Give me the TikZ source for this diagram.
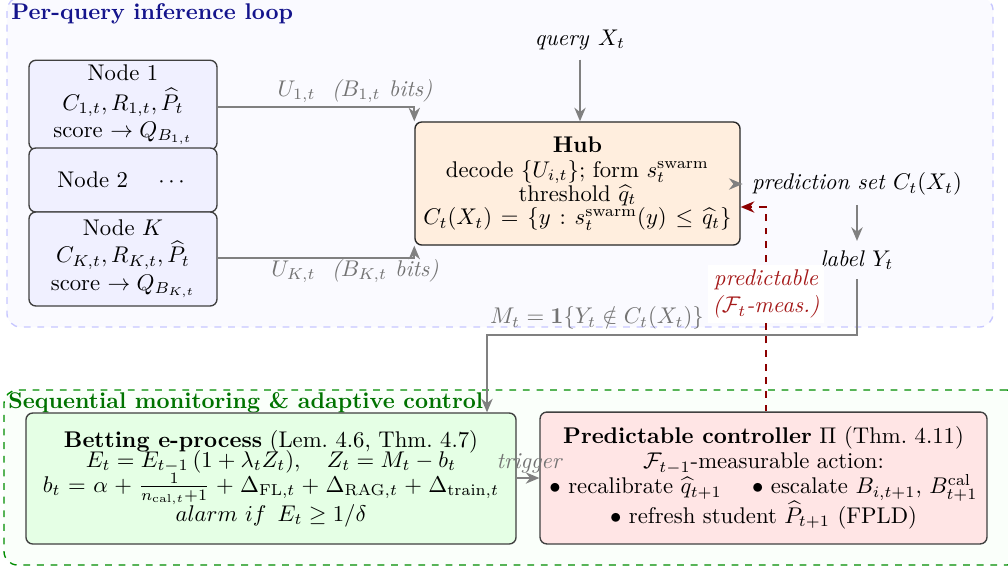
\documentclass[tikz,border=0pt]{standalone}
\usepackage{amsmath,amssymb}
\usetikzlibrary{arrows.meta}
\definecolor{navyT}{RGB}{20,20,140}
\definecolor{greenT}{RGB}{0,115,0}
\definecolor{redD}{RGB}{140,0,0}
\definecolor{redL}{RGB}{165,25,25}
\begin{document}
\begin{tikzpicture}[x=0.44053pt,y=-0.44053pt,
  box/.style={draw=black!75, rounded corners=3pt, line width=0.6pt, align=center, inner sep=2pt},
  nodebox/.style={box, fill=blue!6, minimum width=82.8pt},
  arr/.style={draw=black!50, line width=0.75pt, -{Stealth[length=6pt,width=5pt]}},
  redarr/.style={draw=redD, line width=0.75pt, dashed, -{Stealth[length=6pt,width=5pt]}},
  plain/.style={inner sep=4pt},
  graylab/.style={inner sep=1pt, text=black!55}]
\useasboundingbox (0,0) rectangle (1008,570);
% containers
\node[draw=blue!22, dashed, line width=0.6pt, fill=blue!2, rounded corners=6pt,
      minimum width=434.4pt, minimum height=145.4pt, inner sep=0pt] (loop) at (500,162) {};
\node[draw=green!55!black, dashed, line width=0.6pt, fill=green!2, rounded corners=6pt,
      minimum width=447.6pt, minimum height=77.1pt, inner sep=0pt] (mon) at (512,477.5) {};
\node[anchor=west, font=\bfseries, text=navyT, inner sep=0pt] (t1) at (11,14) {Per-query inference loop};
\node[anchor=west, font=\bfseries, text=greenT, inner sep=0pt] (t2) at (8,403) {Sequential monitoring \& adaptive control};
% edge nodes
\node[nodebox, minimum height=37.9pt] (n1) at (123,105)
  {Node 1\\[1pt] $C_{1,t}, R_{1,t}, \widehat{P}_t$\\ score $\to Q_{B_{1,t}}$};
\node[nodebox, minimum height=28.2pt] (n2) at (123,180) {Node 2 \quad $\cdots$};
\node[nodebox, minimum height=41.4pt] (nK) at (123,259)
  {Node $K$\\ $C_{K,t}, R_{K,t}, \widehat{P}_t$\\ score $\to Q_{B_{K,t}}$};
% hub
\node[box, draw=black!85, fill=orange!13, minimum width=143.2pt, minimum height=54.2pt] (hub) at (577.5,183.5)
  {\textbf{Hub}\\[-1pt] decode $\{U_{i,t}\}$; form $s_t^{\mathrm{swarm}}$\\[-1.5pt] threshold $\widehat{q}_t$\\[-1.5pt]
   $\thickmuskip=7mu C_t(X_t)=\{y: s_t^{\mathrm{swarm}}(y)\le \widehat{q}_t\}$};
\node[plain] (query) at (580,40) {$\mathit{query}\ X_t$};
\node[plain] (pred) at (857,184) {\textit{prediction set} $C_t(X_t)$};
\node[plain] (lab) at (857,260) {\textit{label} $Y_t$};
% monitoring
\node[box, fill=green!10, minimum width=215.9pt, minimum height=57.7pt] (bet) at (271,478.5)
  {\textbf{Betting e-process} (Lem.~4.6, Thm.~4.7)\\[-3pt]
   $E_t = E_{t-1}\,(1+\lambda_t Z_t),\quad Z_t = M_t - b_t$\\[-1.1pt]
   $\medmuskip=5mu \thickmuskip=6mu b_t = \alpha + \frac{1}{n_{\mathrm{cal},t}+1} + \Delta_{\mathrm{FL},t} + \Delta_{\mathrm{RAG},t} + \Delta_{\mathrm{train},t}$\\[-1.25pt]
   $alarm\ if\ \,E_t \ge 1/\delta$};
\node[box, fill=red!10, minimum width=196.9pt, minimum height=58.1pt] (ctrl) at (763.5,478)
  {\textbf{Predictable controller} $\Pi$ (Thm.~4.11)\\[-1pt]
   $\mathcal{F}_{t-1}$-measurable action:\\[-1pt]
   $\bullet$ recalibrate $\widehat{q}_{t+1}$ \quad $\bullet$ escalate $B_{i,t+1}$, $B^{\mathrm{cal}}_{t+1}$\\[-1pt]
   $\bullet$ refresh student $\widehat{P}_{t+1}$ (FPLD)};
% connectors
\draw[arr] (query) -- (query |- hub.north);
\draw[arr] (n1.east |- 0,107) -| (hub.north west);
\node[graylab, font=\itshape] (u1) at (355,91) {$U_{1,t}$\ \ ($B_{1,t}$\ bits)};
\draw[arr] (nK.east |- 0,258) -| (hub.south west);
\node[graylab, font=\itshape] (uK) at (355,271) {$U_{K,t}$\ \ ($B_{K,t}$\ bits)};
\draw[arr] (hub.east |- pred.west) -- (pred.west);
\draw[arr] (pred.south) -- (lab.north);
\coordinate (mc) at (487,335);
\draw[arr] (lab.south) |- (mc) -- (mc |- bet.north);
\node[graylab] (mlab) at (597,318) {$M_t=\mathbf{1}\{Y_t\notin C_t(X_t)\}$};
\draw[arr] (bet.east |- 0,478) -- (ctrl.west |- 0,478);
\node[graylab, font=\itshape] (trig) at (529,463) {trigger};
\coordinate (pc) at (766,207);
\draw[redarr] (ctrl.north -| pc) -- (pc) -- (pc -| hub.east);
\node[fill=white, text=redL, align=center, inner sep=2pt, font=\itshape] (plab) at (766,294)
  {predictable\\ ($\mathcal{F}_t$-meas.)};
\end{tikzpicture}
\end{document}
